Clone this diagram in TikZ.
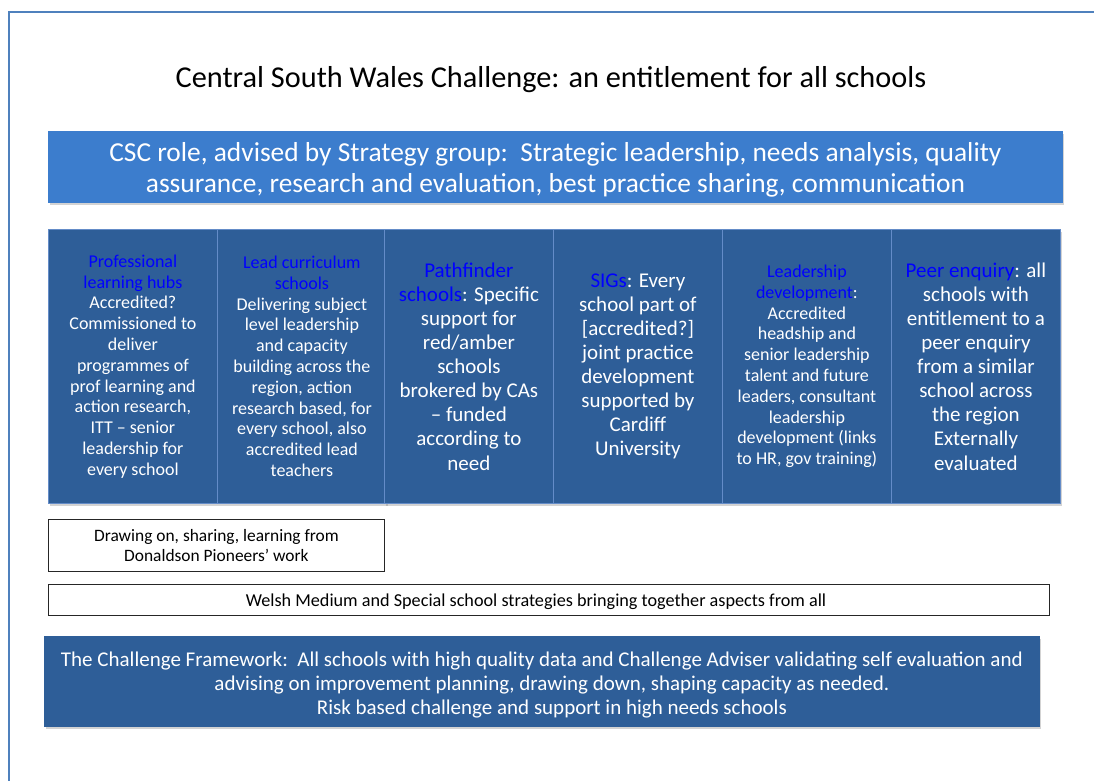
\documentclass[tikz,border=0pt]{standalone}
\usepackage{fontspec}
\setmainfont{Carlito}
\usetikzlibrary{shadows}

\definecolor{frameblue}{RGB}{79,129,189}
\definecolor{roleblue}{RGB}{60,125,205}
\definecolor{panelblue}{RGB}{46,94,152}
\definecolor{paneledge}{RGB}{100,140,200}
\definecolor{headblue}{RGB}{0,0,255}

\newcommand{\hd}[1]{\textcolor{headblue}{#1}}
\newcommand{\fs}[2]{\fontsize{#1}{#2}\selectfont}

\tikzset{
  panel/.style={draw=paneledge, line width=0.8pt, fill=panelblue, text=white,
    align=center, inner sep=0pt, anchor=north west,
    drop shadow={opacity=0.35, shadow xshift=2pt, shadow yshift=-3pt}},
  column/.style={panel, minimum width=169pt, minimum height=274pt},
  small/.style={font=\fs{18}{20.8}},
  large/.style={font=\fs{21}{24.1}},
  whitebox/.style={draw=black!85, line width=0.9pt, fill=white, text=black,
    align=center, inner sep=0pt, anchor=north west},
  caption/.style={align=center, inner sep=0pt}
}

\begin{document}
\begin{tikzpicture}[x=1pt, y=-1pt]
  \useasboundingbox (0,0) rectangle (1094,781);

  % page frame
  \draw[frameblue, line width=1.6pt] (9,790) -- (9,12) -- (1100,12);

  % title
  \node (title) at (551,80) {\fs{30.3}{34}Central South Wales Challenge: an entitlement for all schools};

  % role banner
  \node[panel, fill=roleblue, draw=roleblue, minimum width=1014pt, minimum height=71pt] (role) at (48,131) {};
  \node[caption, text=white, font=\fs{27.4}{31}] (roletext) at ([yshift=-3pt]role.center)
    {CSC role, advised by Strategy group:\ \ Strategic leadership, needs analysis, quality\\
     assurance, research and evaluation, best practice sharing, communication};

  % six delivery columns
  \node[column, small] (c1) at (48,229)
    {\hd{Professional}\\ \hd{learning hubs}\\ Accredited?\\ Commissioned to\\ deliver\\
     programmes of\\ prof learning and\\ action research,\\ ITT – senior\\ leadership for\\ every school};
  \node[column, small] (c2) at (217,229)
    {\hd{Lead curriculum}\\ \hd{schools}\\ Delivering subject\\ level leadership\\ and capacity\\
     building across the\\ region, action\\ research based, for\\ every school, also\\ accredited lead\\ teachers};
  \node[column, large] (c3) at (384,229)
    {\hd{Pathfinder}\\ \hd{schools}: Specific\\ support for\\ red/amber\\ schools\\ brokered by CAs\\
     – funded\\ according to\\ need};
  \node[column, large] (c4) at (553,229)
    {\hd{SIGs}: Every\\ school part of\\ {}[accredited?]\\ joint practice\\ development\\
     supported by\\ Cardiff\\ University};
  \node[column, small] (c5) at (722,229)
    {\hd{Leadership}\\ \hd{development}:\\ Accredited\\ headship and\\ senior leadership\\
     talent and future\\ leaders, consultant\\ leadership\\ development (links\\ to HR, gov training)};
  \node[column, large] (c6) at (891,229)
    {\hd{Peer enquiry}: all\\ schools with\\ entitlement to a\\ peer enquiry\\ from a similar\\
     school across\\ the region\\ Externally\\ evaluated};

  % cross-cutting strands
  \node[whitebox, minimum width=336pt, minimum height=52pt, font=\fs{17.4}{20.5}] (donaldson) at (48,519)
    {Drawing on, sharing, learning from\\ Donaldson Pioneers’ work};
  \node[whitebox, minimum width=1001pt, minimum height=31pt] (welsh) at (48,584) {};
  \node[font=\fs{18.2}{20}] (welshtext) at (536,602)
    {Welsh Medium and Special school strategies bringing together aspects from all};

  % challenge framework
  \node[panel, draw=panelblue, minimum width=995pt, minimum height=90pt] (framework) at (44,636) {};
  \node[caption, text=white, font=\fs{21}{24}] (frameworktext) at ([xshift=0pt,yshift=-3.5pt]framework.center)
    {The Challenge Framework:\ \ All schools with high quality data and Challenge Adviser validating self evaluation and\\
     \hspace*{20pt}advising on improvement planning, drawing down, shaping capacity as needed.\\
     \hspace*{20pt}Risk based challenge and support in high needs schools};
\end{tikzpicture}
\end{document}
